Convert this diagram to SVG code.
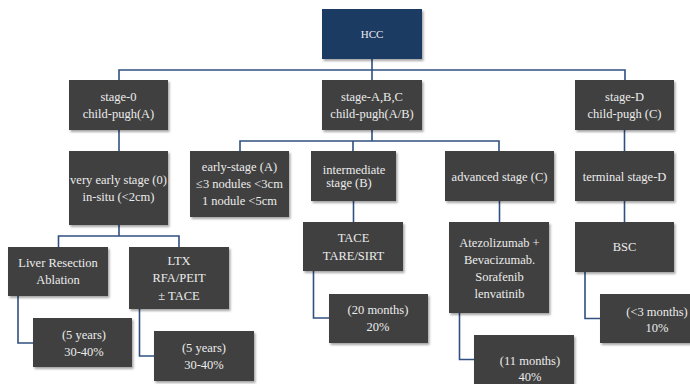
<svg xmlns="http://www.w3.org/2000/svg" width="690" height="384" viewBox="0 0 690 384">
<defs>
<style>
.b{fill:#404040;filter:url(#sh)}
.h{fill:#1b3a63;filter:url(#sh)}
text{font-family:"Liberation Serif","Times New Roman",serif;font-size:12.5px;fill:#ececec;text-anchor:middle}
.c{fill:none;stroke:#2f5080;stroke-width:1.6}
</style>
<filter id="sh" x="-10%" y="-10%" width="130%" height="140%">
<feDropShadow dx="1.5" dy="2" stdDeviation="1.2" flood-color="#000" flood-opacity="0.35"/>
</filter>
</defs>
<rect width="690" height="384" fill="#fff"/>
<g id="connectors">
<path class="c" d="M372 59V70M119 80V70H625V80M372 70V80"/>
<path class="c" d="M119 130V151"/>
<path class="c" d="M372 130V141M240 151V141H499V151M353 141V151"/>
<path class="c" d="M624.5 130V151"/>
<path class="c" d="M119 225V236M58.5 247V236H179V247"/>
<path class="c" d="M18 296V343H33"/>
<path class="c" d="M139.5 309V356H154"/>
<path class="c" d="M353.5 201V222"/>
<path class="c" d="M313.5 271V318H329"/>
<path class="c" d="M499.5 201V222"/>
<path class="c" d="M459.5 313V359.5H474"/>
<path class="c" d="M624.5 201V222"/>
<path class="c" d="M585 272V318.5H600"/>
</g>
<g id="hcc"><rect class="h" x="322" y="9" width="100" height="50"/><text x="372" y="38" style="font-size:11px">HCC</text></g>
<g id="stage0"><rect class="b" x="69" y="80" width="99" height="50"/><text x="118.5" y="101">stage-0</text><text x="118.5" y="118">child-pugh(A)</text></g>
<g id="stageABC"><rect class="b" x="322" y="80" width="100" height="50"/><text x="372" y="101">stage-A,B,C</text><text x="372" y="118">child-pugh(A/B)</text></g>
<g id="stageD"><rect class="b" x="575" y="80" width="99" height="50"/><text x="624.5" y="101">stage-D</text><text x="624.5" y="118">child-pugh (C)</text></g>
<g id="veryearly"><rect class="b" x="69" y="151" width="99" height="74"/><text x="118.5" y="184">very early stage (0)</text><text x="118.5" y="201">in-situ (&lt;2cm)</text></g>
<g id="early"><rect class="b" x="190" y="151" width="99" height="66"/><text x="239.5" y="171">early-stage (A)</text><text x="239.5" y="188">≤3 nodules &lt;3cm</text><text x="239.5" y="205">1 nodule &lt;5cm</text></g>
<g id="intermediate"><rect class="b" x="311" y="151" width="85" height="50"/><text x="354" y="174">intermediate</text><text x="349" y="187">stage (B)</text></g>
<g id="advanced"><rect class="b" x="445" y="151" width="109" height="50"/><text x="499.5" y="181">advanced stage (C)</text></g>
<g id="terminal"><rect class="b" x="575" y="151" width="99" height="50"/><text x="624.5" y="181">terminal stage-D</text></g>
<g id="liver"><rect class="b" x="8" y="247" width="100" height="49"/><text x="58" y="267">Liver Resection</text><text x="58" y="284">Ablation</text></g>
<g id="ltx"><rect class="b" x="129" y="247" width="100" height="62"/><text x="179" y="265">LTX</text><text x="179" y="282">RFA/PEIT</text><text x="179" y="300">± TACE</text></g>
<g id="surv1"><rect class="b" x="33" y="318" width="99" height="49"/><text x="84" y="339">(5 years)</text><text x="84" y="356">30-40%</text></g>
<g id="surv2"><rect class="b" x="154" y="331" width="100" height="50"/><text x="204" y="352">(5 years)</text><text x="204" y="369">30-40%</text></g>
<g id="tace"><rect class="b" x="303" y="222" width="100" height="49"/><text x="353.5" y="242">TACE</text><text x="353.5" y="260">TARE/SIRT</text></g>
<g id="surv3"><rect class="b" x="329" y="294" width="99" height="49"/><text x="378" y="314">(20 months)</text><text x="378" y="331">20%</text></g>
<g id="atezo"><rect class="b" x="449" y="222" width="100" height="91"/><text x="499.5" y="247">Atezolizumab +</text><text x="499.5" y="264">Bevacizumab.</text><text x="499.5" y="281">Sorafenib</text><text x="499.5" y="298">lenvatinib</text></g>
<g id="surv4"><rect class="b" x="474" y="335" width="100" height="60"/><text x="530" y="365">(11 months)</text><text x="530" y="381">40%</text></g>
<g id="bsc"><rect class="b" x="575" y="222" width="99" height="50"/><text x="624.5" y="251">BSC</text></g>
<g id="surv5"><rect class="b" x="600" y="294" width="110" height="49"/><text x="657" y="316">(&lt;3 months)</text><text x="657" y="332">10%</text></g>
</svg>
